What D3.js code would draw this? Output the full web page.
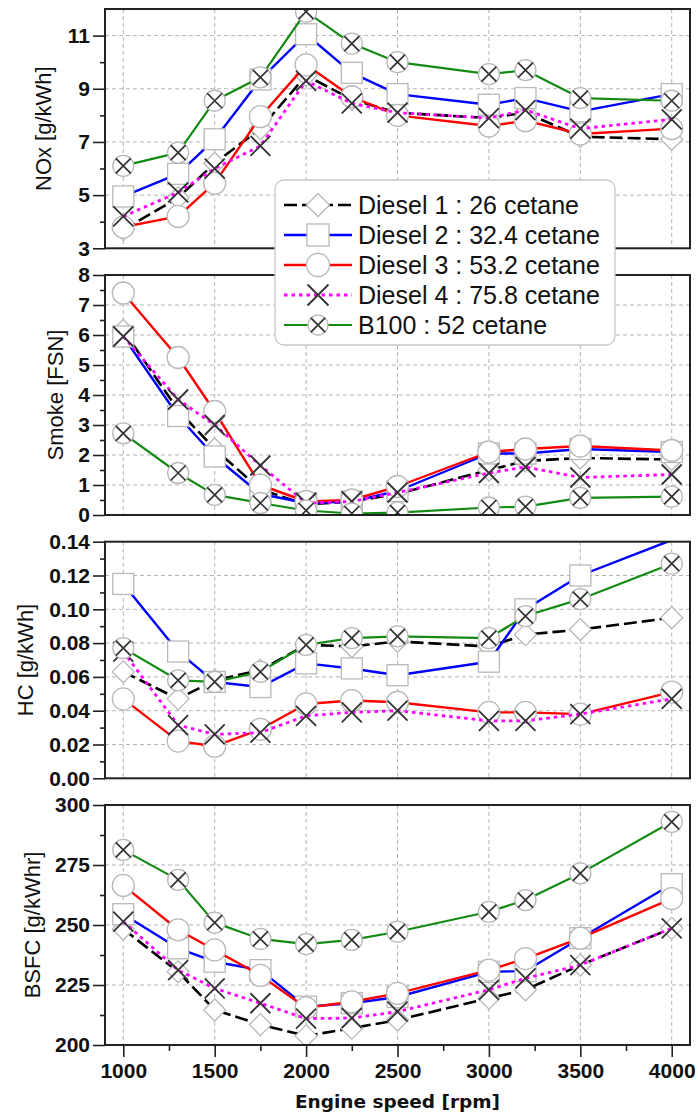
<!DOCTYPE html>
<html>
<head>
<meta charset="utf-8">
<script src="https://cdn.jsdelivr.net/npm/d3@7"></script>
<style>
  html, body { margin: 0; padding: 0; background: #fff; }
  svg { display: block; }
</style>
</head>
<body>
<svg id="chart" width="698" height="1115"></svg>
<script>
// Engine speed sweep [rpm]
const rpm = [1000, 1300, 1500, 1750, 2000, 2250, 2500, 3000, 3200, 3500, 4000];

const fuelNames = [
  "Diesel 1 : 26 cetane",
  "Diesel 2 : 32.4 cetane",
  "Diesel 3 : 53.2 cetane",
  "Diesel 4 : 75.8 cetane",
  "B100 : 52 cetane"
];

// NOx [g/kWh]
const noxD1   = [3.7, 4.9, 6.2, 7.5, 9.5, 8.6, 8.1, 7.9, 8.1, 7.2, 7.1];
const noxD2   = [4.95, 5.8, 7.1, 9.35, 11.05, 9.6, 8.8, 8.4, 8.65, 8.15, 8.8];
const noxD3   = [3.8, 4.2, 5.45, 7.95, 9.9, 8.7, 8.0, 7.6, 7.8, 7.3, 7.5];
const noxD4   = [4.2, 5.1, 6.0, 6.85, 9.3, 8.45, 8.1, 7.9, 8.2, 7.5, 7.85];
const noxB100 = [6.1, 6.6, 8.55, 9.43, 11.9, 10.7, 10.0, 9.55, 9.7, 8.65, 8.55];

// Smoke [FSN]
const smokeD1   = [6.15, 3.5, 2.2, 0.85, 0.35, 0.45, 0.7, 1.5, 1.8, 1.9, 1.85];
const smokeD2   = [5.95, 3.3, 1.95, 0.7, 0.4, 0.45, 0.8, 2.05, 2.05, 2.2, 2.1];
const smokeD3   = [7.4, 5.25, 3.45, 1.0, 0.45, 0.5, 0.95, 2.1, 2.2, 2.3, 2.15];
const smokeD4   = [5.95, 3.85, 3.0, 1.65, 0.4, 0.45, 0.75, 1.4, 1.6, 1.25, 1.35];
const smokeB100 = [2.72, 1.4, 0.67, 0.4, 0.15, 0.05, 0.08, 0.25, 0.28, 0.57, 0.61];

// HC [g/kWh]
const hcD1   = [0.063, 0.047, 0.058, 0.064, 0.079, 0.078, 0.081, 0.078, 0.085, 0.088, 0.095];
const hcD2   = [0.115, 0.075, 0.057, 0.054, 0.068, 0.065, 0.061, 0.069, 0.100, 0.120, 0.141];
const hcD3   = [0.047, 0.022, 0.019, 0.029, 0.044, 0.046, 0.045, 0.039, 0.039, 0.038, 0.051];
const hcD4   = [0.075, 0.0315, 0.026, 0.027, 0.037, 0.039, 0.040, 0.034, 0.034, 0.038, 0.047];
const hcB100 = [0.077, 0.058, 0.057, 0.063, 0.079, 0.083, 0.084, 0.083, 0.096, 0.106, 0.127];

// BSFC [g/kWhr]
const bsfcD1   = [248.3, 230.5, 214.6, 208.5, 203.8, 207, 210.4, 219.5, 223, 233.3, 248.6];
const bsfcD2   = [254.5, 240.3, 234.7, 231.2, 216, 217.4, 220, 230.5, 230.8, 244.5, 267];
const bsfcD3   = [266.5, 248, 239.6, 229, 215.5, 218, 221.5, 231.2, 236, 244.5, 261];
const bsfcD4   = [251.4, 231.2, 223.6, 217.4, 211, 211.2, 213.9, 223, 227.8, 233.3, 248.6];
const bsfcB100 = [281.3, 268.8, 251, 244.2, 242, 243.8, 247.2, 255.5, 260.4, 271.5, 293];

// Tick values
const rpmTicks      = [1000, 1500, 2000, 2500, 3000, 3500, 4000];
const rpmMinorTicks = [1250, 1750, 2250, 2750, 3250, 3750];
const noxTicks      = [3, 5, 7, 9, 11];
const noxMinorTicks = [4, 6, 8, 10];
const smokeTicks    = [0, 1, 2, 3, 4, 5, 6, 7, 8];
const smokeMinorTicks = [0.5, 1.5, 2.5, 3.5, 4.5, 5.5, 6.5, 7.5];
const hcTicks       = [0, 0.02, 0.04, 0.06, 0.08, 0.10, 0.12, 0.14];
const hcMinorTicks  = [0.01, 0.03, 0.05, 0.07, 0.09, 0.11, 0.13];
const bsfcTicks     = [200, 225, 250, 275, 300];
const bsfcMinorTicks = [212.5, 237.5, 262.5, 287.5];

// ---------------------------------------------------------------------------
const FONT = "'Liberation Sans', Arial, Helvetica, sans-serif";
const svg = d3.select("#chart");

const plotLeft = 105, plotRight = 690;
const x = d3.scaleLinear().domain([900, 4100]).range([plotLeft, plotRight]);

const fuelStyles = [
  { color: "#000000", width: 2.6, dash: "13,5",  marker: "diamond" },
  { color: "#0000ff", width: 2.4, dash: null,    marker: "square" },
  { color: "#ff0000", width: 2.4, dash: null,    marker: "circle" },
  { color: "#ff00ff", width: 2.8, dash: "3.5,4", marker: "cross" },
  { color: "#138a13", width: 2.2, dash: null,    marker: "circlecross" }
];

const panels = [
  { title: "NOx [g/kWh]",   domain: [3, 12],    ticks: noxTicks,   minor: noxMinorTicks,
    fmt: d3.format("d"),    series: [noxD1, noxD2, noxD3, noxD4, noxB100],
    top: 9, bottom: 248.3, titleX: 43 },
  { title: "Smoke [FSN]",   domain: [0, 8],     ticks: smokeTicks, minor: smokeMinorTicks,
    fmt: d3.format("d"),    series: [smokeD1, smokeD2, smokeD3, smokeD4, smokeB100],
    top: 275, bottom: 515, titleX: 55 },
  { title: "HC [g/kWh]",    domain: [0, 0.14],  ticks: hcTicks,    minor: hcMinorTicks,
    fmt: d3.format(".2f"),  series: [hcD1, hcD2, hcD3, hcD4, hcB100],
    top: 541.7, bottom: 778.3, titleX: 25 },
  { title: "BSFC [g/kWhr]", domain: [200, 300], ticks: bsfcTicks,  minor: bsfcMinorTicks,
    fmt: d3.format("d"),    series: [bsfcD1, bsfcD2, bsfcD3, bsfcD4, bsfcB100],
    top: 805, bottom: 1045, titleX: 32 }
];

const MARK_STROKE = "#b9b9b9";
const CROSS_STROKE = "#333333";

function drawMarker(g, type, cx, cy, s = 1) {
  const m = g.append("g").attr("transform", `translate(${cx},${cy})`);
  const cross = (h, w) => {
    m.append("path")
      .attr("d", `M${-h},${-h}L${h},${h}M${-h},${h}L${h},${-h}`)
      .attr("stroke", CROSS_STROKE).attr("stroke-width", w).attr("fill", "none");
  };
  if (type === "diamond") {
    const r = 11 * s;
    m.append("path").attr("d", `M0,${-r}L${r},0L0,${r}L${-r},0Z`)
      .attr("fill", "#fff").attr("stroke", MARK_STROKE).attr("stroke-width", 1.3);
  } else if (type === "square") {
    const h = 10.5 * s;
    m.append("rect").attr("x", -h).attr("y", -h).attr("width", 2 * h).attr("height", 2 * h)
      .attr("fill", "#fff").attr("stroke", MARK_STROKE).attr("stroke-width", 1.3);
  } else if (type === "circle") {
    m.append("circle").attr("r", 11 * s)
      .attr("fill", "#fff").attr("stroke", MARK_STROKE).attr("stroke-width", 1.3);
  } else if (type === "cross") {
    cross(10 * s, 1.8);
  } else if (type === "circlecross") {
    m.append("circle").attr("r", 10.5 * s)
      .attr("fill", "#fff").attr("stroke", MARK_STROKE).attr("stroke-width", 1.3);
    cross(7.5 * s, 1.7);
  }
}

panels.forEach((p, pi) => {
  const y = d3.scaleLinear().domain(p.domain).range([p.bottom, p.top]);
  const g = svg.append("g");
  const h = p.bottom - p.top;

  // grid
  const grid = g.append("g").attr("stroke", "#b4b4b4").attr("stroke-width", 1)
    .attr("stroke-dasharray", "4,3");
  grid.selectAll("line.v").data(rpmTicks).join("line")
    .attr("x1", d => x(d)).attr("x2", d => x(d))
    .attr("y1", p.top).attr("y2", p.bottom);
  grid.selectAll("line.h")
    .data(p.ticks.filter(t => t > p.domain[0] && t < p.domain[1]))
    .join("line")
    .attr("x1", plotLeft).attr("x2", plotRight)
    .attr("y1", d => y(d)).attr("y2", d => y(d));

  // clipped plotting area
  const clipId = "clip" + pi;
  svg.append("clipPath").attr("id", clipId).append("rect")
    .attr("x", plotLeft).attr("y", p.top).attr("width", plotRight - plotLeft).attr("height", h);
  const area = g.append("g").attr("clip-path", `url(#${clipId})`);

  const line = d3.line().x(d => x(d[0])).y(d => y(d[1]));

  p.series.forEach((vals, si) => {
    const st = fuelStyles[si];
    const pts = rpm.map((r, i) => [r, vals[i]]);
    area.append("path")
      .attr("d", line(pts))
      .attr("fill", "none")
      .attr("stroke", st.color)
      .attr("stroke-width", st.width)
      .attr("stroke-dasharray", st.dash)
      .attr("stroke-linejoin", "round");
    const mg = area.append("g");
    pts.filter(d => d[1] <= p.domain[1]).forEach(d => drawMarker(mg, st.marker, x(d[0]), y(d[1])));
  });

  // frame
  g.append("rect").attr("x", plotLeft).attr("y", p.top)
    .attr("width", plotRight - plotLeft).attr("height", h)
    .attr("fill", "none").attr("stroke", "#222").attr("stroke-width", 2);

  // y axis
  const yAxis = g.append("g").attr("transform", `translate(${plotLeft},0)`)
    .call(d3.axisLeft(y).tickValues(p.ticks).tickSize(12).tickPadding(3).tickFormat(p.fmt));
  g.append("g").attr("transform", `translate(${plotLeft},0)`)
    .call(d3.axisLeft(y).tickValues(p.minor).tickSize(5).tickFormat(""))
    .call(a => a.select(".domain").remove())
    .selectAll("line").attr("stroke", "#222").attr("stroke-width", 1.6);
  yAxis.select(".domain").remove();
  yAxis.selectAll("line").attr("stroke", "#222").attr("stroke-width", 1.6);
  yAxis.selectAll("text")
    .attr("font-family", FONT).attr("font-size", 21).attr("font-weight", "bold").attr("fill", "#111");

  // y title
  g.append("text")
    .attr("transform", `translate(${p.titleX},${(p.top + p.bottom) / 2}) rotate(-90)`)
    .attr("text-anchor", "middle").attr("dominant-baseline", "central")
    .attr("font-family", FONT).attr("font-size", 22).attr("fill", "#111")
    .text(p.title);

  // x axis on the bottom panel only
  if (pi === panels.length - 1) {
    const xAxis = g.append("g").attr("transform", `translate(0,${p.bottom})`)
      .call(d3.axisBottom(x).tickValues(rpmTicks).tickSize(12).tickPadding(6).tickFormat(d3.format("d")));
    xAxis.select(".domain").remove();
    xAxis.selectAll("line").attr("stroke", "#222").attr("stroke-width", 1.6);
    xAxis.selectAll("text")
      .attr("font-family", FONT).attr("font-size", 21).attr("font-weight", "bold").attr("fill", "#111");
    g.append("g").attr("transform", `translate(0,${p.bottom})`)
      .call(d3.axisBottom(x).tickValues(rpmMinorTicks).tickSize(6).tickFormat(""))
      .call(a => a.select(".domain").remove())
      .selectAll("line").attr("stroke", "#222").attr("stroke-width", 1.6);

    g.append("text")
      .attr("x", (plotLeft + plotRight) / 2).attr("y", 1108)
      .attr("text-anchor", "middle")
      .attr("font-family", "'DejaVu Sans', Verdana, sans-serif")
      .attr("font-size", 18.5).attr("font-weight", "bold").attr("fill", "#111")
      .text("Engine speed [rpm]");
  }
});

// legend
const legend = svg.append("g");
legend.append("rect")
  .attr("x", 275).attr("y", 180).attr("width", 340).attr("height", 165).attr("rx", 9)
  .attr("fill", "#fff").attr("stroke", "#c8c8c8").attr("stroke-width", 1.3);

fuelNames.forEach((name, i) => {
  const st = fuelStyles[i];
  const cy = 205 + i * 30;
  legend.append("line")
    .attr("x1", 284).attr("x2", 352).attr("y1", cy).attr("y2", cy)
    .attr("stroke", st.color).attr("stroke-width", st.width)
    .attr("stroke-dasharray", st.dash);
  drawMarker(legend, st.marker, 318, cy, st.marker === "circlecross" ? 0.95 : 1.05);
  legend.append("text")
    .attr("x", 358).attr("y", cy).attr("dominant-baseline", "central")
    .attr("font-family", FONT).attr("font-size", 25).attr("fill", "#111")
    .text(name);
});
</script>
</body>
</html>
